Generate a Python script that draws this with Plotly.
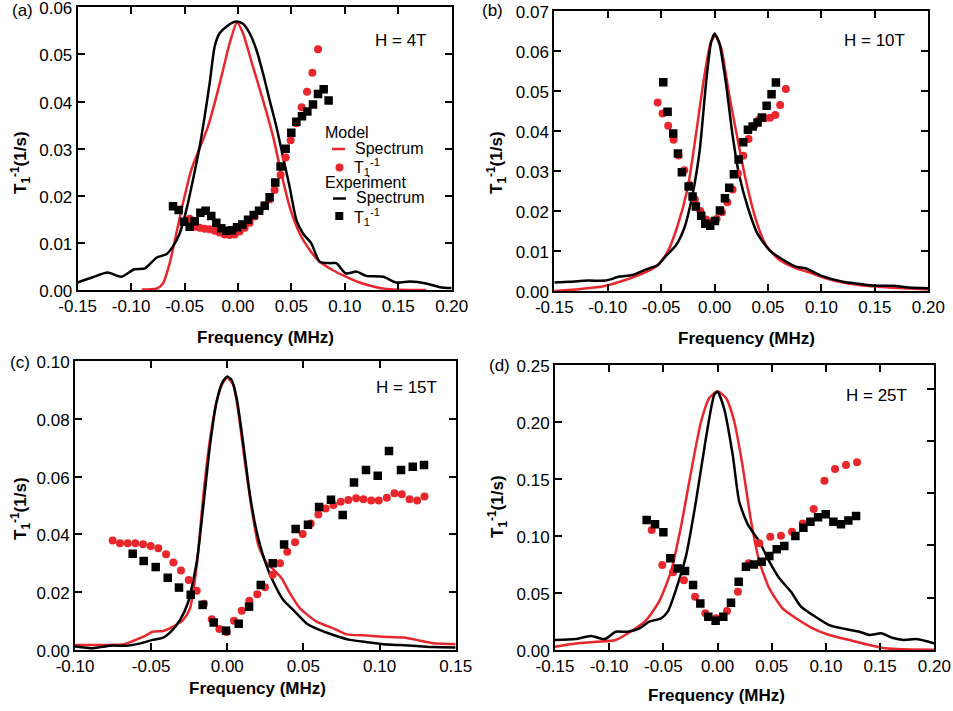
import plotly.graph_objects as go

RED = "#e8262b"
BLACK = "#000000"
FONT = "Liberation Sans, Arial, sans-serif"

# ---------------- Panel (a) H = 4T ----------------
a_exp_spec_f = [-0.150, -0.136, -0.122, -0.109, -0.097, -0.087, -0.076, -0.067, -0.061, -0.0546, -0.0483,
                -0.0421, -0.0359, -0.0312, -0.0265, -0.0218, -0.0172, -0.0109, -0.0047, -0.0009, 0.0047,
                0.0109, 0.0172, 0.0234, 0.0296, 0.0359, 0.0421, 0.0483, 0.0546, 0.0608, 0.0686, 0.0764,
                0.086, 0.092, 0.101, 0.111, 0.120, 0.136, 0.148, 0.161, 0.176, 0.189, 0.200]
a_exp_spec_v = [0.0016, 0.0027, 0.0037, 0.0028, 0.0044, 0.0046, 0.0069, 0.0076, 0.0092, 0.0120, 0.0170,
                0.0234, 0.0304, 0.0368, 0.0439, 0.0517, 0.0545, 0.0559, 0.0568, 0.0570, 0.0565,
                0.0545, 0.0510, 0.0460, 0.0403, 0.0347, 0.0283, 0.0219, 0.0149, 0.0120, 0.0099, 0.0060,
                0.0057, 0.0057, 0.0035, 0.0039, 0.0030, 0.0028, 0.0016, 0.0018, 0.0014, 0.0006, 0.0004]
a_mod_spec_f = [-0.090, -0.0764, -0.0702, -0.0639, -0.0577, -0.0515, -0.0437, -0.0359, -0.0281, -0.0203,
                -0.0140, -0.0078, -0.0009, 0.0047, 0.0140, 0.0234, 0.0328, 0.0405, 0.0483, 0.0577,
                0.0671, 0.0764, 0.0889, 0.1014, 0.1138, 0.1294, 0.1450, 0.1762]
a_mod_spec_v = [0.0001, 0.0003, 0.0014, 0.0057, 0.0120, 0.0184, 0.0255, 0.0301, 0.0347, 0.0410,
                0.0467, 0.0524, 0.0568, 0.0545, 0.0474, 0.0403, 0.0326, 0.0248, 0.0177, 0.0120,
                0.0085, 0.0060, 0.0042, 0.0028, 0.0016, 0.0006, 0.0001, 0.0000]
a_mod_t1_f = [-0.0452, -0.0405, -0.0359, -0.0312, -0.0265, -0.0218, -0.0172, -0.0125, -0.0078, -0.0031,
              0.0016, 0.0062, 0.0109, 0.0156, 0.0203, 0.0250, 0.0296, 0.0343, 0.0399, 0.0446, 0.0493,
              0.0546, 0.0596, 0.0646, 0.0696, 0.0749]
a_mod_t1_v = [0.0151, 0.0134, 0.0132, 0.0130, 0.0129, 0.0126, 0.0122, 0.0118, 0.0117, 0.0118,
              0.0124, 0.0132, 0.0143, 0.0156, 0.0168, 0.0180, 0.0192, 0.0212, 0.0244, 0.0281, 0.0318,
              0.0354, 0.0388, 0.0421, 0.0461, 0.0511]
a_exp_t1_f = [-0.0608, -0.0555, -0.0505, -0.0452, -0.0405, -0.0352, -0.0303, -0.0250, -0.0203, -0.0156,
              -0.0109, -0.0056, -0.0009, 0.0041, 0.0094, 0.0147, 0.0197, 0.0250, 0.0296, 0.0349,
              0.0399, 0.0446, 0.0499, 0.0546, 0.0599, 0.0649, 0.0702, 0.0749, 0.0802, 0.0848]
a_exp_t1_v = [0.0178, 0.0170, 0.0145, 0.0134, 0.0146, 0.0164, 0.0168, 0.0157, 0.0143, 0.0131,
              0.0126, 0.0127, 0.0133, 0.0139, 0.0149, 0.0159, 0.0168, 0.0179, 0.0197, 0.0228,
              0.0262, 0.0300, 0.0334, 0.0357, 0.0369, 0.0379, 0.0394, 0.0416, 0.0426, 0.0402]

# ---------------- Panel (b) H = 10T ----------------
b_exp_spec_f = [-0.150, -0.136, -0.118, -0.102, -0.089, -0.077, -0.064, -0.053, -0.046, -0.036, -0.028,
                -0.021, -0.014, -0.008, -0.0034, 0.0, 0.0044, 0.0106, 0.0168, 0.023, 0.031, 0.040,
                0.051, 0.064, 0.076, 0.085, 0.101, 0.120, 0.135, 0.151, 0.167, 0.182, 0.200]
b_exp_spec_v = [0.0021, 0.0023, 0.0026, 0.0026, 0.0036, 0.0040, 0.0054, 0.0065, 0.0086, 0.0115, 0.0160,
                0.0236, 0.0350, 0.0520, 0.0620, 0.0644, 0.0620, 0.0520, 0.0390, 0.0290, 0.0210, 0.0144,
                0.0103, 0.0078, 0.0061, 0.0057, 0.0037, 0.0023, 0.0018, 0.0013, 0.0013, 0.0009, 0.0007]
b_mod_spec_f = [-0.150, -0.130, -0.105, -0.083, -0.064, -0.053, -0.044, -0.035, -0.025, -0.0175, -0.0097,
                -0.0034, 0.0006, 0.0059, 0.0137, 0.0215, 0.029, 0.0387, 0.048, 0.0605, 0.076, 0.089,
                0.104, 0.120, 0.135, 0.151, 0.182, 0.200]
b_mod_spec_v = [0.0000, 0.0004, 0.0011, 0.0028, 0.0048, 0.0065, 0.0098, 0.0160, 0.0260, 0.0390, 0.0536,
                0.0623, 0.0638, 0.0610, 0.0490, 0.0380, 0.0280, 0.0178, 0.0115, 0.0078, 0.0057, 0.0046,
                0.0032, 0.0021, 0.0015, 0.0011, 0.0006, 0.0004]
b_mod_t1_f = [-0.0533, -0.0487, -0.0434, -0.0384, -0.0337, -0.0284, -0.0234, -0.0184, -0.0134, -0.0081,
              -0.0031, 0.0019, 0.0069, 0.0119, 0.0168, 0.0218, 0.0268, 0.0318, 0.0371, 0.0418, 0.0468,
              0.0518, 0.0568, 0.0614, 0.0667]
b_mod_t1_v = [0.0471, 0.0444, 0.0413, 0.0378, 0.0339, 0.0302, 0.0265, 0.0229, 0.0200, 0.0179,
              0.0172, 0.0180, 0.0197, 0.0222, 0.0254, 0.0294, 0.0338, 0.0380, 0.0413, 0.0429, 0.0432,
              0.0433, 0.0440, 0.0465, 0.0505]
b_exp_t1_f = [-0.0480, -0.0440, -0.0387, -0.0343, -0.0306, -0.0243, -0.0206, -0.0175, -0.0125, -0.0087,
              -0.0041, 0.0003, 0.0050, 0.0097, 0.0137, 0.0181, 0.0225, 0.0268, 0.0312, 0.0356, 0.0402,
              0.0443, 0.0487, 0.0533, 0.0574]
b_exp_t1_v = [0.0522, 0.0448, 0.0394, 0.0344, 0.0297, 0.0261, 0.0236, 0.0211, 0.0188, 0.0168,
              0.0163, 0.0175, 0.0201, 0.0232, 0.0258, 0.0292, 0.0329, 0.0372, 0.0403, 0.0411, 0.0421,
              0.0434, 0.0463, 0.0492, 0.0521]

# ---------------- Panel (c) H = 15T ----------------
c_exp_spec_f = [-0.100, -0.088, -0.077, -0.066, -0.057, -0.049, -0.042, -0.0365, -0.031, -0.0256, -0.020,
                -0.0157, -0.0113, -0.0070, -0.003, 0.0, 0.0029, 0.0062, 0.0106, 0.0149, 0.0193, 0.0248,
                0.0302, 0.0368, 0.0434, 0.0521, 0.061, 0.0697, 0.0806, 0.0916, 0.1025, 0.1135, 0.1244,
                0.1354, 0.150]
c_exp_spec_v = [0.0012, 0.0006, 0.0015, 0.0015, 0.0023, 0.0035, 0.0043, 0.0066, 0.0104, 0.0167, 0.0306,
                0.0500, 0.0710, 0.0860, 0.0929, 0.0946, 0.0934, 0.0870, 0.0710, 0.0536, 0.0410, 0.0306,
                0.0236, 0.0173, 0.0138, 0.0092, 0.0069, 0.0052, 0.0035, 0.0027, 0.0020, 0.0017, 0.0014,
                0.0010, 0.0009]
c_mod_spec_f = [-0.100, -0.088, -0.068, -0.062, -0.055, -0.049, -0.042, -0.0355, -0.029, -0.0245, -0.020,
                -0.0157, -0.0113, -0.007, -0.003, 0.0, 0.004, 0.0072, 0.0116, 0.016, 0.0204, 0.0259,
                0.0302, 0.0357, 0.0412, 0.0478, 0.0587, 0.0697, 0.0784, 0.0916, 0.1025, 0.1156, 0.1244,
                0.1354, 0.150]
c_mod_spec_v = [0.0017, 0.0017, 0.0020, 0.0031, 0.0046, 0.0063, 0.0066, 0.0081, 0.0104, 0.0144, 0.0294,
                0.0536, 0.0730, 0.0860, 0.0923, 0.0942, 0.0917, 0.0825, 0.0650, 0.0490, 0.0363, 0.0300,
                0.0279, 0.0248, 0.0196, 0.0144, 0.0098, 0.0075, 0.0054, 0.0050, 0.0046, 0.0043, 0.0035,
                0.0023, 0.0020]
c_mod_t1_f = [-0.0753, -0.0705, -0.0654, -0.0604, -0.0553, -0.0503, -0.0453, -0.0402, -0.0354, -0.0304,
              -0.0253, -0.0201, -0.0153, -0.0102, -0.0052, -0.0004, 0.0044, 0.0095, 0.0145, 0.0197,
              0.0248, 0.0298, 0.0346, 0.0394, 0.0445, 0.0495, 0.0548, 0.0598, 0.0646, 0.0697, 0.0745,
              0.0795, 0.0846, 0.0894, 0.0945, 0.0995, 0.1048, 0.1098, 0.1146, 0.1197, 0.1247, 0.1295]
c_mod_t1_v = [0.0379, 0.0369, 0.0369, 0.0369, 0.0366, 0.0360, 0.0352, 0.0331, 0.0303, 0.0275,
              0.0242, 0.0205, 0.0160, 0.0106, 0.0073, 0.0062, 0.0101, 0.0136, 0.0170, 0.0193,
              0.0217, 0.0260, 0.0300, 0.0340, 0.0373, 0.0401, 0.0438, 0.0469, 0.0490, 0.0502, 0.0513,
              0.0519, 0.0525, 0.0522, 0.0517, 0.0517, 0.0527, 0.0542, 0.0539, 0.0522, 0.0517, 0.0531]
c_exp_t1_f = [-0.0621, -0.0549, -0.0470, -0.0391, -0.0317, -0.0240, -0.0162, -0.0089, -0.0008, 0.0075,
              0.0143, 0.0220, 0.0298, 0.0373, 0.0449, 0.0530, 0.0603, 0.0681, 0.0758, 0.0832, 0.0911,
              0.0988, 0.1062, 0.1141, 0.1218, 0.1292]
c_exp_t1_v = [0.0333, 0.0308, 0.0287, 0.0250, 0.0216, 0.0191, 0.0156, 0.0095, 0.0067, 0.0091,
              0.0150, 0.0225, 0.0300, 0.0365, 0.0419, 0.0433, 0.0495, 0.0520, 0.0467, 0.0580, 0.0623,
              0.0603, 0.0689, 0.0623, 0.0634, 0.0640]

# ---------------- Panel (d) H = 25T ----------------
d_exp_spec_f = [-0.150, -0.131, -0.117, -0.104, -0.094, -0.083, -0.072, -0.063, -0.052, -0.046, -0.038,
                -0.029, -0.020, -0.0107, -0.003, 0.0, 0.006, 0.014, 0.020, 0.028, 0.0386, 0.0478, 0.057,
                0.0678, 0.077, 0.0878, 0.103, 0.118, 0.131, 0.140, 0.151, 0.161, 0.172, 0.183, 0.192, 0.200]
d_exp_spec_v = [0.0088, 0.0096, 0.0123, 0.0096, 0.0160, 0.0160, 0.0190, 0.0249, 0.0278, 0.0336, 0.0540,
                0.0830, 0.1300, 0.1860, 0.2240, 0.2266, 0.2120, 0.1710, 0.1300, 0.1100, 0.0950, 0.0775,
                0.0629, 0.0510, 0.0380, 0.0307, 0.0219, 0.0184, 0.0160, 0.0132, 0.0146, 0.0108, 0.0088,
                0.0096, 0.0079, 0.0058]
d_mod_spec_f = [-0.150, -0.131, -0.112, -0.094, -0.078, -0.066, -0.054, -0.043, -0.034, -0.0245, -0.0153,
                -0.0076, 0.0, 0.0078, 0.0155, 0.023, 0.031, 0.0386, 0.0478, 0.060, 0.0724, 0.0878,
                0.103, 0.1216, 0.140, 0.155, 0.171, 0.200]
d_mod_spec_v = [0.0029, 0.0058, 0.0073, 0.0088, 0.0175, 0.0260, 0.0424, 0.0687, 0.1070, 0.1560, 0.2000,
                0.2210, 0.2270, 0.2210, 0.2000, 0.1620, 0.1126, 0.0775, 0.0540, 0.0365, 0.0278, 0.0190,
                0.0132, 0.0088, 0.0044, 0.0015, 0.0006, 0.0003]
d_mod_t1_f = [-0.0608, -0.0510, -0.0411, -0.0310, -0.0208, -0.0113, -0.0014, 0.0087, 0.0188, 0.0287,
              0.0385, 0.0487, 0.0585, 0.0687, 0.0786, 0.0887, 0.0986, 0.1084, 0.1185, 0.1287]
d_mod_t1_v = [0.1053, 0.0746, 0.0681, 0.0611, 0.0468, 0.0322, 0.0278, 0.0342, 0.0512, 0.0760,
              0.0936, 0.0994, 0.1003, 0.1038, 0.1110, 0.1237, 0.1485, 0.1588, 0.1623, 0.1646]
d_exp_t1_f = [-0.0654, -0.0577, -0.0500, -0.0436, -0.0368, -0.0300, -0.0226, -0.0159, -0.0085, -0.0018,
              0.0053, 0.0124, 0.0195, 0.0262, 0.0336, 0.0407, 0.0478, 0.0546, 0.0616, 0.0718, 0.0792,
              0.0857, 0.0927, 0.0998, 0.1069, 0.1139, 0.1207, 0.1278]
d_exp_t1_v = [0.1140, 0.1102, 0.1032, 0.0804, 0.0716, 0.0693, 0.0570, 0.0409, 0.0292, 0.0257,
              0.0292, 0.0415, 0.0599, 0.0731, 0.0751, 0.0775, 0.0825, 0.0883, 0.0912, 0.1000, 0.1073,
              0.1126, 0.1164, 0.1190, 0.1126, 0.1102, 0.1135, 0.1175]

# ---------------- Axes: ranges and tick labels ----------------
x_ticks_abd = [-0.15, -0.10, -0.05, 0.00, 0.05, 0.10, 0.15, 0.20]
x_labels_abd = ["-0.15", "-0.10", "-0.05", "0.00", "0.05", "0.10", "0.15", "0.20"]
x_ticks_c = [-0.10, -0.05, 0.00, 0.05, 0.10, 0.15]
x_labels_c = ["-0.10", "-0.05", "0.00", "0.05", "0.10", "0.15"]
y_ticks_a = [0.00, 0.01, 0.02, 0.03, 0.04, 0.05, 0.06]
y_ticks_b = [0.00, 0.01, 0.02, 0.03, 0.04, 0.05, 0.06, 0.07]
y_ticks_c = [0.00, 0.02, 0.04, 0.06, 0.08, 0.10]
y_ticks_d = [0.00, 0.05, 0.10, 0.15, 0.20, 0.25]
d_right_ticks = [0.00, 0.05, 0.10, 0.15, 0.20, 0.25]

panel_labels = ["(a)", "(b)", "(c)", "(d)"]
field_labels = ["H = 4T", "H = 10T", "H = 15T", "H = 25T"]
legend_headers = ["Model", "Experiment"]
legend_items = ["Spectrum", "T<sub>1</sub><sup>-1</sup>"]

fig = go.Figure()

panels = [
    ("x", "y", a_mod_spec_f, a_mod_spec_v, a_exp_spec_f, a_exp_spec_v, a_mod_t1_f, a_mod_t1_v, a_exp_t1_f, a_exp_t1_v),
    ("x2", "y2", b_mod_spec_f, b_mod_spec_v, b_exp_spec_f, b_exp_spec_v, b_mod_t1_f, b_mod_t1_v, b_exp_t1_f, b_exp_t1_v),
    ("x3", "y3", c_mod_spec_f, c_mod_spec_v, c_exp_spec_f, c_exp_spec_v, c_mod_t1_f, c_mod_t1_v, c_exp_t1_f, c_exp_t1_v),
    ("x4", "y4", d_mod_spec_f, d_mod_spec_v, d_exp_spec_f, d_exp_spec_v, d_mod_t1_f, d_mod_t1_v, d_exp_t1_f, d_exp_t1_v),
]

for i, (xa, ya, msf, msv, esf, esv, mtf, mtv, etf, etv) in enumerate(panels):
    fig.add_trace(go.Scatter(x=msf, y=msv, xaxis=xa, yaxis=ya, mode="lines",
                             line=dict(color=RED, width=2.5, shape="spline", smoothing=0.6),
                             name="Model spectrum", showlegend=False))
    fig.add_trace(go.Scatter(x=esf, y=esv, xaxis=xa, yaxis=ya, mode="lines",
                             line=dict(color=BLACK, width=2.5, shape="spline", smoothing=0.6),
                             name="Experiment spectrum", showlegend=False))
    fig.add_trace(go.Scatter(x=mtf, y=mtv, xaxis=xa, yaxis=ya, mode="markers",
                             marker=dict(color=RED, size=8, symbol="circle"),
                             name="Model T1^-1", showlegend=False))
    fig.add_trace(go.Scatter(x=etf, y=etv, xaxis=xa, yaxis=ya, mode="markers",
                             marker=dict(color=BLACK, size=8.5, symbol="square"),
                             name="Experiment T1^-1", showlegend=False))

# invisible trace to host the right-hand axis of panel (d)
fig.add_trace(go.Scatter(x=[], y=[], xaxis="x4", yaxis="y5", showlegend=False, hoverinfo="skip"))

domains = {
    "a": ([0.08153, 0.47398], [0.59212, 0.98969]),
    "b": ([0.58164, 0.97408], [0.59072, 0.98453]),
    "c": ([0.07870, 0.47817], [0.08579, 0.49226]),
    "d": ([0.58237, 0.98038], [0.08579, 0.48664]),
}

tickfont = dict(family=FONT, size=17, color="black")
common_ax = dict(showline=True, linecolor="black", linewidth=2, ticks="inside", ticklen=7,
                 tickwidth=2, tickcolor="black", showgrid=False, zeroline=False, tickfont=tickfont,
                 automargin=False, ticklabeloverflow="allow")

def xaxis(dom, rng, vals, labels, anchor):
    return dict(domain=dom, range=rng, tickvals=vals, ticktext=labels, anchor=anchor,
                mirror="ticks", **common_ax)

def yaxis(dom, rng, vals, anchor, mirror="ticks"):
    return dict(domain=dom, range=rng, tickvals=vals, ticktext=[f"{v:.2f}" for v in vals],
                anchor=anchor, mirror=mirror, ticklabelshift=1, **common_ax)

fig.update_layout(
    template="none",
    xaxis=xaxis(domains["a"][0], [-0.15, 0.20], x_ticks_abd, x_labels_abd, "y"),
    yaxis=yaxis(domains["a"][1], [0, 0.06], y_ticks_a, "x"),
    xaxis2=xaxis(domains["b"][0], [-0.15, 0.20], x_ticks_abd, x_labels_abd, "y2"),
    yaxis2=yaxis(domains["b"][1], [0, 0.07], y_ticks_b, "x2"),
    xaxis3=xaxis(domains["c"][0], [-0.10, 0.15], x_ticks_c, x_labels_c, "y3"),
    yaxis3=yaxis(domains["c"][1], [0, 0.10], y_ticks_c, "x3"),
    xaxis4=xaxis(domains["d"][0], [-0.15, 0.20], x_ticks_abd, x_labels_abd, "y4"),
    yaxis4=yaxis(domains["d"][1], [0, 0.25], y_ticks_d, "x4", mirror=True),
    yaxis5=dict(overlaying="y4", side="right", anchor="x4", range=[0, 0.2725],
                tickvals=d_right_ticks, showticklabels=False, ticks="inside", ticklen=7,
                tickwidth=2, tickcolor="black", showline=False, showgrid=False, zeroline=False,
                automargin=False),
)

def px_x(v):
    return v / 953

def px_y(v):
    return 1 - v / 711

ann = []
# panel letters
for lab, (px, py) in zip(panel_labels, [(22, 11), (492, 11), (20, 362), (499, 365)]):
    ann.append(dict(text=lab, x=px_x(px), y=px_y(py), xref="paper", yref="paper",
                    showarrow=False, font=dict(family=FONT, size=17, color="black"),
                    xanchor="center", yanchor="middle"))
# field labels
for lab, (px, py) in zip(field_labels, [(401, 40), (874, 40), (406, 388), (876, 395)]):
    ann.append(dict(text=lab, x=px_x(px), y=px_y(py), xref="paper", yref="paper",
                    showarrow=False, font=dict(family=FONT, size=17, color="black"),
                    xanchor="center", yanchor="middle"))
# x titles
for (px, py) in [(265, 337), (746, 338), (257, 688), (716, 695)]:
    ann.append(dict(text="<b>Frequency (MHz)</b>", x=px_x(px), y=px_y(py), xref="paper",
                    yref="paper", showarrow=False, font=dict(family=FONT, size=17, color="black"),
                    xanchor="center", yanchor="middle"))
# y titles
for (px, py) in [(21, 163), (497, 163), (21, 509), (498, 507)]:
    ann.append(dict(text="<b>T<sub>1</sub><sup>-1</sup>(1/s)</b>", x=px_x(px), y=px_y(py),
                    xref="paper", yref="paper", showarrow=False, textangle=-90,
                    font=dict(family=FONT, size=17, color="black"),
                    xanchor="center", yanchor="middle"))

# legend (panel a), built as text + key swatches
leg_font = dict(family=FONT, size=16, color="black")
for hdr, py in zip(legend_headers, [132.5, 182.5]):
    ann.append(dict(text=hdr, x=px_x(322.5), y=px_y(py), xref="paper", yref="paper",
                    showarrow=False, font=leg_font, xanchor="left", yanchor="middle"))
for txt, px, py in [(legend_items[0], 352.5, 148.5), (legend_items[1], 351.5, 166.5),
                    (legend_items[0], 353.5, 198.0), (legend_items[1], 351.5, 217.0)]:
    ann.append(dict(text=txt, x=px_x(px), y=px_y(py), xref="paper", yref="paper",
                    showarrow=False, font=leg_font, xanchor="left", yanchor="middle"))

shapes = [
    dict(type="line", xref="paper", yref="paper", x0=px_x(332), x1=px_x(345),
         y0=px_y(149), y1=px_y(149), line=dict(color=RED, width=2.5)),
    dict(type="circle", xref="paper", yref="paper", x0=px_x(335.5), x1=px_x(343.5),
         y0=px_y(163.5), y1=px_y(171.5), fillcolor=RED, line=dict(width=0)),
    dict(type="line", xref="paper", yref="paper", x0=px_x(333), x1=px_x(346),
         y0=px_y(198.5), y1=px_y(198.5), line=dict(color=BLACK, width=2.5)),
    dict(type="rect", xref="paper", yref="paper", x0=px_x(335.3), x1=px_x(343.3),
         y0=px_y(212), y1=px_y(220), fillcolor=BLACK, line=dict(width=0)),
]

fig.update_layout(
    annotations=ann,
    shapes=shapes,
    width=953, height=711, autosize=False,
    margin=dict(l=0, r=0, t=0, b=0, pad=0),
    paper_bgcolor="white", plot_bgcolor="white",
    font=dict(family=FONT, size=17, color="black"),
    showlegend=False,
)

fig.write_html("out.html",
               config={"displayModeBar": False},
               post_script="document.body.style.margin='0';document.body.style.overflow='hidden';")
